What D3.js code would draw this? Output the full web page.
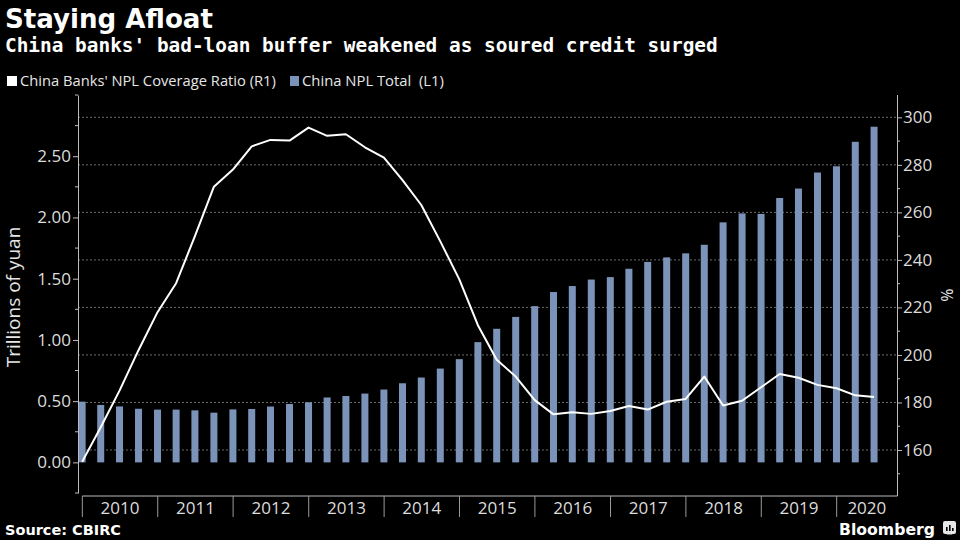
<!DOCTYPE html>
<html>
<head>
<meta charset="utf-8">
<script src="https://cdn.jsdelivr.net/npm/d3@7"></script>
<style>
  html, body { margin: 0; padding: 0; background: #000; }
  svg { display: block; }
</style>
</head>
<body>
<svg id="chart" width="960" height="540"></svg>
<script>
// ---------------- DATA ----------------
const quarters = [
  "2009Q4",
  "2010Q1","2010Q2","2010Q3","2010Q4",
  "2011Q1","2011Q2","2011Q3","2011Q4",
  "2012Q1","2012Q2","2012Q3","2012Q4",
  "2013Q1","2013Q2","2013Q3","2013Q4",
  "2014Q1","2014Q2","2014Q3","2014Q4",
  "2015Q1","2015Q2","2015Q3","2015Q4",
  "2016Q1","2016Q2","2016Q3","2016Q4",
  "2017Q1","2017Q2","2017Q3","2017Q4",
  "2018Q1","2018Q2","2018Q3","2018Q4",
  "2019Q1","2019Q2","2019Q3","2019Q4",
  "2020Q1","2020Q2"
];
// China NPL Total, trillions of yuan (left axis)
const nplTotal = [
  0.496,
  0.469, 0.457, 0.438, 0.431,
  0.431, 0.425, 0.406, 0.433,
  0.436, 0.456, 0.477, 0.491,
  0.530, 0.542, 0.562, 0.595,
  0.646, 0.693, 0.766, 0.843,
  0.982, 1.091, 1.188, 1.276,
  1.391, 1.440, 1.493, 1.513,
  1.581, 1.637, 1.674, 1.707,
  1.777, 1.960, 2.033, 2.029,
  2.159, 2.236, 2.367, 2.418,
  2.618, 2.741
];
// China Banks' NPL Coverage Ratio, % (right axis)
const coverageRatio = [
  155.0,
  169.6, 185.0, 202.0, 218.0,
  230.2, 250.0, 270.8, 278.0,
  287.8, 290.5, 290.2, 295.7,
  292.2, 292.9, 287.4, 283.0,
  273.6, 263.1, 247.8, 231.8,
  212.5, 198.0, 190.9, 181.0,
  175.0, 175.9, 175.2, 176.4,
  178.5, 177.0, 180.3, 181.5,
  190.9, 178.7, 180.7, 186.4,
  192.0, 190.4, 187.4, 186.0,
  183.0, 182.3
];
const leftTicks = [0, 0.5, 1.0, 1.5, 2.0, 2.5];
const leftMinorTicks = [-0.25, 0.25, 0.75, 1.25, 1.75, 2.25, 2.75, 3.0];
const rightTicks = [160, 180, 200, 220, 240, 260, 280, 300];
const rightMinorTicks = [150, 170, 190, 210, 230, 250, 270, 290];
const yearLabels = ["2010","2011","2012","2013","2014","2015","2016","2017","2018","2019","2020"];

const titleText = "Staying Afloat";
const subtitleText = "China banks' bad-loan buffer weakened as soured credit surged";
const legendLine = "China Banks' NPL Coverage Ratio (R1)";
const legendBar = "China NPL Total\u00a0 (L1)";
const leftAxisTitle = "Trillions of yuan";
const rightAxisTitle = "%";
const sourceText = "Source: CBIRC";

// ---------------- LAYOUT ----------------
const svg = d3.select("#chart");
const W = 960, H = 540;
const plotL = 78, plotR = 897, plotT = 95, plotB = 493;
const lblColor = "#dcdcdc";
const barColor = "#7b93b8";
const sans = "'Open Sans', 'Noto Sans', sans-serif";

svg.append("rect").attr("width", W).attr("height", H).attr("fill", "#000");

function qDate(q) {
  const y = +q.slice(0, 4), n = +q.slice(5);
  return new Date(y, n * 3, 0);
}
const data = quarters.map((q, i) => ({ date: qDate(q), npl: nplTotal[i], cov: coverageRatio[i] }));

const x = d3.scaleTime()
  .domain([new Date(2009, 11, 11), new Date(2020, 9, 19)])
  .range([plotL, plotR]);
const yL = d3.scaleLinear().domain([-0.25, 3.0]).range([plotB, plotT]);
const yR = d3.scaleLinear().domain([141.9, 309.4]).range([plotB, plotT]);

function fit(sel, target) {
  const w = sel.node().getComputedTextLength();
  const fs = parseFloat(sel.attr("font-size"));
  sel.attr("font-size", (fs * target / w).toFixed(2));
  return sel;
}

// gridlines (right axis)
svg.append("g").selectAll("line").data(rightTicks).join("line")
  .attr("x1", plotL).attr("x2", plotR)
  .attr("y1", d => yR(d)).attr("y2", d => yR(d))
  .attr("stroke", "#6a6a6a").attr("stroke-width", 1)
  .attr("stroke-dasharray", "2,2");

// bars
svg.append("g").selectAll("rect").data(data).join("rect")
  .attr("x", d => x(d.date) - 3.5)
  .attr("width", 7)
  .attr("y", d => yL(d.npl))
  .attr("height", d => yL(0) - yL(d.npl))
  .attr("fill", barColor);

// line
svg.append("path").datum(data)
  .attr("fill", "none").attr("stroke", "#ffffff").attr("stroke-width", 2)
  .attr("stroke-linejoin", "round")
  .attr("d", d3.line().x(d => x(d.date)).y(d => yR(d.cov)));

// left axis
const gL = svg.append("g").attr("transform", `translate(${plotL},0)`)
  .call(d3.axisLeft(yL).tickValues(leftTicks).tickFormat(d3.format(".2f")).tickSize(5).tickSizeOuter(0));
gL.select(".domain").attr("stroke", "#bdbdbd");
gL.selectAll(".tick line").attr("stroke", "#bdbdbd");
gL.selectAll(".tick text").attr("fill", lblColor).attr("font-family", sans).attr("font-size", 17).attr("x", -7);
gL.append("g").selectAll("line").data(leftMinorTicks).join("line")
  .attr("x1", -3).attr("x2", 0).attr("y1", d => yL(d)).attr("y2", d => yL(d))
  .attr("stroke", "#bdbdbd");

// right axis
const gR = svg.append("g").attr("transform", `translate(${plotR},0)`)
  .call(d3.axisRight(yR).tickValues(rightTicks).tickFormat(d3.format("d")).tickSize(5).tickSizeOuter(0));
gR.select(".domain").attr("stroke", "#bdbdbd").attr("d", `M0.5,${plotT}V${plotB + 3}`);
gR.selectAll(".tick line").attr("stroke", "#bdbdbd");
gR.selectAll(".tick text").attr("fill", lblColor).attr("font-family", sans).attr("font-size", 17).attr("x", 6);
gR.append("g").selectAll("line").data(rightMinorTicks).join("line")
  .attr("x1", 0).attr("x2", 3).attr("y1", d => yR(d)).attr("y2", d => yR(d))
  .attr("stroke", "#bdbdbd");

// bottom axis
const axisY = 496;
const yearStarts = yearLabels.map(y => new Date(+y, 0, 1));
svg.append("line").attr("x1", x(yearStarts[0])).attr("x2", plotR + 0.5)
  .attr("y1", axisY).attr("y2", axisY).attr("stroke", "#bdbdbd");
svg.append("g").selectAll("line").data(yearStarts).join("line")
  .attr("x1", d => x(d)).attr("x2", d => x(d))
  .attr("y1", axisY).attr("y2", 517)
  .attr("stroke", "#9a9a9a");
svg.append("g").selectAll("text").data(yearLabels).join("text")
  .attr("x", y => {
    const a = Math.max(x(new Date(+y, 0, 1)), plotL);
    const b = Math.min(x(new Date(+y + 1, 0, 1)), plotR);
    return (a + b) / 2;
  })
  .attr("y", 514)
  .attr("text-anchor", "middle")
  .attr("fill", lblColor).attr("font-family", sans).attr("font-size", 17)
  .text(d => d);

// axis titles
svg.append("text")
  .attr("transform", "translate(20,297) rotate(-90)")
  .attr("text-anchor", "middle")
  .attr("fill", "#e6e6e6").attr("font-family", sans).attr("font-size", 19)
  .text(leftAxisTitle);
svg.append("text")
  .attr("transform", "translate(941,295) rotate(90)")
  .attr("text-anchor", "middle")
  .attr("fill", "#e6e6e6").attr("font-family", sans).attr("font-size", 16)
  .text(rightAxisTitle);

// titles
const t1 = svg.append("text").attr("x", 5).attr("y", 28)
  .attr("fill", "#fff").attr("font-family", "'DejaVu Sans', sans-serif")
  .attr("font-weight", "bold").attr("font-size", 25).text(titleText);
fit(t1, 208);
const t2 = svg.append("text").attr("x", 5).attr("y", 52)
  .attr("fill", "#fff").attr("font-family", "'DejaVu Sans Mono', monospace")
  .attr("font-weight", "bold").attr("font-size", 19).text(subtitleText);
fit(t2, 713);

// legend
svg.append("rect").attr("x", 7).attr("y", 76).attr("width", 10).attr("height", 10).attr("fill", "#fff");
const l1 = svg.append("text").attr("x", 20).attr("y", 86)
  .attr("fill", "#e6e6e6").attr("font-family", sans).attr("font-size", 13).text(legendLine);
fit(l1, 256);
svg.append("rect").attr("x", 290).attr("y", 76).attr("width", 9).attr("height", 10).attr("fill", barColor);
const l2 = svg.append("text").attr("x", 302).attr("y", 86)
  .attr("fill", "#e6e6e6").attr("font-family", sans).attr("font-size", 13).text(legendBar);
fit(l2, 142);

// footer
const s = svg.append("text").attr("x", 5).attr("y", 535)
  .attr("fill", "#fff").attr("font-family", "'DejaVu Sans', sans-serif")
  .attr("font-weight", "bold").attr("font-size", 14).text(sourceText);
fit(s, 116);
const bb = svg.append("text").attr("x", 839).attr("y", 535)
  .attr("fill", "#fff").attr("font-family", "'DejaVu Sans', sans-serif")
  .attr("font-weight", "bold").attr("font-size", 19).text("Bloomberg");
fit(bb, 96);
const icon = svg.append("g").attr("transform", "translate(943,521)");
icon.append("rect").attr("width", 13).attr("height", 13).attr("rx", 2).attr("fill", "#e6e6e6");
icon.append("path").attr("d", "M6.5,11 L3.5,13.5 L9.5,13.5 Z").attr("fill", "#e6e6e6");
[[3, 6, 4], [6, 4, 6], [9, 7, 3]].forEach(([bx, by, bh]) =>
  icon.append("rect").attr("x", bx).attr("y", by).attr("width", 1.6).attr("height", bh).attr("fill", "#000"));
</script>
</body>
</html>
